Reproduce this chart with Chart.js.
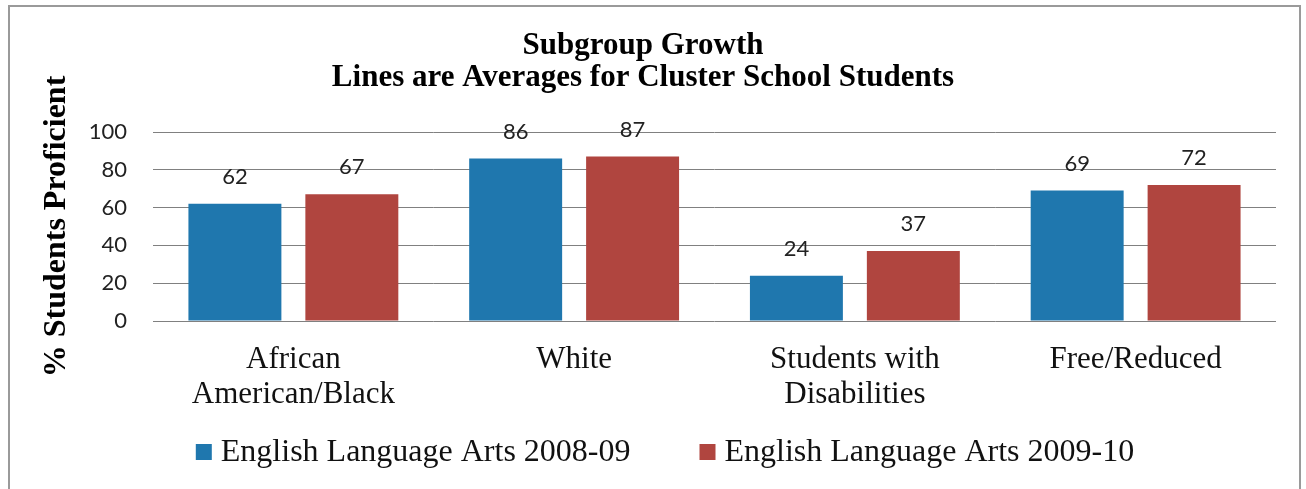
<!DOCTYPE html>
<html>
<head>
<meta charset="utf-8">
<script src="https://cdn.jsdelivr.net/npm/chart.js@4.4.1/dist/chart.umd.min.js"></script>
<style>
  body { margin: 0; background: #fff; }
  #wrap { position: relative; width: 1306px; height: 489px; overflow: hidden; }
  #frame { position: absolute; left: 8px; top: 5px; width: 1293px; height: 520px; border: 2px solid #9a9a9a; box-sizing: border-box; }
  #box { position: absolute; left: 0; top: 0; width: 1306px; height: 489px; }
</style>
</head>
<body>
<div id="wrap">
  <div id="frame"></div>
  <div id="box"><canvas id="myChart"></canvas></div>
</div>
<script>
// данные с картинки
const categories = [['African', 'American/Black'], 'White', ['Students with', 'Disabilities'], 'Free/Reduced'];
const ela0809 = [62, 86, 24, 69];
const ela0910 = [67, 87, 37, 72];
const seriesNames = ['English Language Arts 2008-09', 'English Language Arts 2009-10'];
const titleLines = ['Subgroup Growth', 'Lines are Averages for Cluster School Students'];
const yTitle = '% Students Proficient';
const yMin = 0, yMax = 100, yStep = 20;

const serif = '"Liberation Serif", "Times New Roman", serif';
const sans = 'Lato, "Open Sans", sans-serif';
const blue = '#1f77ae';
const red = '#b0453f';

// подписи значений над столбиками
const valueLabels = {
    id: 'valueLabels',
    afterDatasetsDraw(chart) {
        const ctx = chart.ctx;
        ctx.save();
        ctx.font = '22px ' + sans;
        ctx.fillStyle = '#222';
        ctx.textAlign = 'center';
        ctx.textBaseline = 'middle';
        chart.data.datasets.forEach((ds, i) => {
            chart.getDatasetMeta(i).data.forEach((bar, j) => {
                ctx.fillText(ds.data[j], bar.x, bar.y - 27);
            });
        });
        ctx.restore();
    }
};

// легенда снизу (квадратик + текст)
const bottomLegend = {
    id: 'bottomLegend',
    afterDraw(chart) {
        const ctx = chart.ctx;
        const box = 16, gap = 9, spacing = 69, y = 452;
        ctx.save();
        ctx.font = '32px ' + serif;
        ctx.textBaseline = 'middle';
        ctx.textAlign = 'left';
        const items = chart.data.datasets.map(ds => ({
            label: ds.label, color: ds.backgroundColor, w: box + gap + ctx.measureText(ds.label).width
        }));
        const total = items.reduce((s, it) => s + it.w, 0) + spacing * (items.length - 1);
        let x = (chart.width + 24) / 2 - total / 2;
        items.forEach(it => {
            ctx.fillStyle = it.color;
            ctx.fillRect(x, y - box / 2, box, box);
            ctx.fillStyle = '#111';
            ctx.fillText(it.label, x + box + gap, y + 1);
            x += it.w + spacing;
        });
        ctx.restore();
    }
};

const ctx = document.getElementById('myChart').getContext('2d');
const chart = new Chart(ctx, {
    type: 'bar',
    data: {
        labels: categories,
        datasets: [{
            label: seriesNames[0],
            data: ela0809,
            backgroundColor: blue,
            categoryPercentage: 0.833,
            barPercentage: 0.795
        }, {
            label: seriesNames[1],
            data: ela0910,
            backgroundColor: red,
            categoryPercentage: 0.833,
            barPercentage: 0.795
        }]
    },
    options: {
        responsive: true,
        maintainAspectRatio: false,
        animation: false,
        layout: { padding: { left: 10, right: 30, top: 0, bottom: 64 } },
        plugins: {
            legend: { display: false },
            tooltip: { enabled: false },
            title: {
                display: true,
                text: titleLines,
                color: '#000',
                font: { family: serif, size: 31, weight: 'bold', lineHeight: 32 / 31 },
                padding: { top: 30, bottom: 38 }
            }
        },
        scales: {
            x: {
                grid: { display: false },
                border: { display: false },
                ticks: {
                    color: '#111',
                    font: { family: serif, size: 31, lineHeight: 35 / 31 },
                    padding: 13,
                    maxRotation: 0,
                    autoSkip: false
                }
            },
            y: {
                min: yMin,
                max: yMax,
                grid: { color: '#808080', lineWidth: 1, drawTicks: false },
                border: { display: false },
                ticks: {
                    stepSize: yStep,
                    color: '#222',
                    font: { family: sans, size: 22 },
                    padding: 26
                },
                title: {
                    display: true,
                    text: yTitle,
                    color: '#000',
                    font: { family: serif, size: 32, weight: 'bold', lineHeight: 1.2 },
                    padding: { top: 28, bottom: 0 }
                },
                afterFit(scale) { scale.width = 143; }
            }
        }
    },
    plugins: [valueLabels, bottomLegend]
});
</script>
</body>
</html>
